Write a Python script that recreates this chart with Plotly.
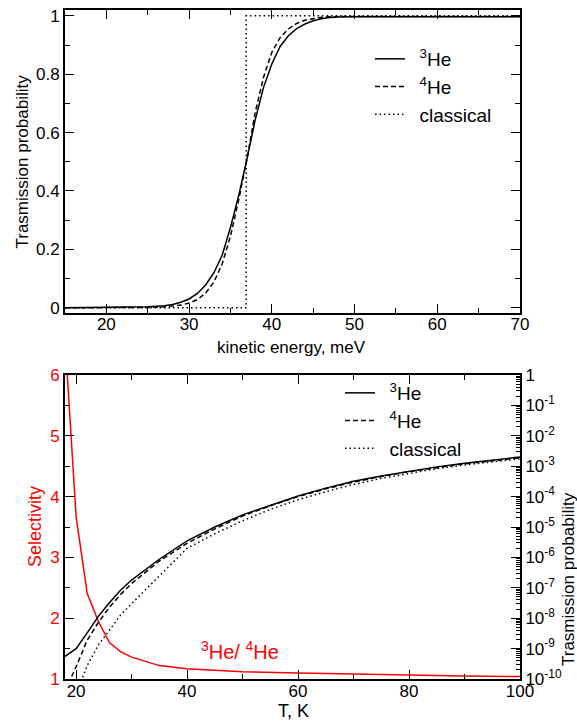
import plotly.graph_objects as go

# ---- upper panel: transmission probability vs kinetic energy ----
energy = [15, 20, 25, 27, 28, 29, 30, 31, 32, 33, 34, 35, 36, 37, 38, 39, 40,
          41, 42, 43, 44, 45, 46, 47, 48, 50, 55, 60, 65, 70]
he3_energy = [0.0, 0.0003, 0.003, 0.007, 0.011, 0.019, 0.03, 0.049, 0.078, 0.12,
              0.18, 0.275, 0.385, 0.51, 0.645, 0.755, 0.835, 0.895, 0.932, 0.956,
              0.972, 0.983, 0.99, 0.994, 0.996, 0.997, 0.997, 0.997, 0.997, 0.997]
he4_energy = [0.0, 0.0001, 0.0008, 0.003, 0.005, 0.009, 0.016, 0.028, 0.05, 0.088,
              0.15, 0.245, 0.37, 0.51, 0.67, 0.79, 0.875, 0.925, 0.955, 0.974,
              0.985, 0.991, 0.995, 0.997, 0.998, 0.998, 0.998, 0.998, 0.998, 0.998]
classical_energy = [15, 36.9, 36.9, 70]
classical_prob = [0.0, 0.0, 1.0, 1.0]

# ---- lower panel: transmission probability and selectivity vs temperature ----
temperature = [18, 20, 22, 24, 26, 28, 30, 35, 40, 45, 50, 55, 60, 65, 70, 75,
               80, 85, 90, 95, 100]
he3_temp = [5.5e-10, 1.0e-9, 3.3e-9, 1.15e-8, 3.2e-8, 8.3e-8, 1.8e-7, 8.7e-7,
            3.5e-6, 1.0e-5, 2.5e-5, 5.2e-5, 1.05e-4, 1.9e-4, 3.2e-4, 4.8e-4,
            6.9e-4, 9.5e-4, 1.26e-3, 1.6e-3, 2.0e-3]
he4_temp = [4.0e-11, 2.5e-10, 1.9e-9, 7.2e-9, 2.3e-8, 6.0e-8, 1.38e-7, 7.6e-7,
            2.9e-6, 8.7e-6, 2.3e-5, 5.0e-5, 1.0e-4, 1.8e-4, 3.0e-4, 4.6e-4,
            6.6e-4, 9.1e-4, 1.2e-3, 1.5e-3, 1.9e-3]
temperature_cl = [20, 22, 24, 26, 28, 30, 35, 40, 45, 50, 55, 60, 65, 70, 75,
                  80, 85, 90, 95, 100]
classical_temp = [3.2e-11, 2.75e-10, 1.3e-9, 4.2e-9, 1.26e-8, 3.0e-8, 2.5e-7,
                  2.0e-6, 6.0e-6, 1.6e-5, 3.8e-5, 7.9e-5, 1.45e-4, 2.5e-4,
                  4.0e-4, 5.8e-4, 8.3e-4, 1.1e-3, 1.4e-3, 1.74e-3]
temperature_sel = [18, 20, 22, 24, 26, 28, 30, 35, 40, 45, 50, 60, 70, 80, 90, 100]
selectivity = [6.6, 3.67, 2.41, 1.95, 1.60, 1.45, 1.36, 1.22, 1.17, 1.14, 1.12,
               1.10, 1.08, 1.06, 1.05, 1.04]

# legend names get an en space so the text sits a little away from the key
labels = ["\u2002<sup>3</sup>He", "\u2002<sup>4</sup>He", "\u2002classical"]
log_exponents = list(range(-10, 1))
log_ticktext = ["1" if e == 0 else f"10<sup>{e}</sup>" for e in log_exponents]

FONT = "Liberation Sans, Arial, sans-serif"
RED = "#ff0000"
W, H = 577, 721

def px(x):
    return x / W

def py(y):
    return 1 - y / H

fig = go.Figure()

# upper panel curves
fig.add_trace(go.Scatter(x=energy, y=he3_energy, mode="lines", name=labels[0],
                         line=dict(color="black", width=1.5), legend="legend",
                         xaxis="x", yaxis="y"))
fig.add_trace(go.Scatter(x=energy, y=he4_energy, mode="lines", name=labels[1],
                         line=dict(color="black", width=1.5, dash="5px,3px"),
                         legend="legend", xaxis="x", yaxis="y"))
fig.add_trace(go.Scatter(x=classical_energy, y=classical_prob, mode="lines",
                         name=labels[2],
                         line=dict(color="black", width=1.5, dash="1.5px,3px"),
                         legend="legend", xaxis="x", yaxis="y"))

# lower panel: selectivity on the left axis
fig.add_trace(go.Scatter(x=temperature_sel, y=selectivity, mode="lines",
                         line=dict(color=RED, width=1.5), showlegend=False,
                         xaxis="x2", yaxis="y2"))
# lower panel: transmission probabilities on the right log axis
fig.add_trace(go.Scatter(x=temperature, y=he3_temp, mode="lines", name=labels[0],
                         line=dict(color="black", width=1.5), legend="legend2",
                         xaxis="x2", yaxis="y3"))
fig.add_trace(go.Scatter(x=temperature, y=he4_temp, mode="lines", name=labels[1],
                         line=dict(color="black", width=1.5, dash="5px,3px"),
                         legend="legend2", xaxis="x2", yaxis="y3"))
fig.add_trace(go.Scatter(x=temperature_cl, y=classical_temp, mode="lines",
                         name=labels[2],
                         line=dict(color="black", width=1.5, dash="1.5px,3px"),
                         legend="legend2", xaxis="x2", yaxis="y3"))

tick_font = dict(family=FONT, size=17, color="black")
frame = dict(showline=True, linecolor="black", linewidth=2, showgrid=False,
             zeroline=False, ticks="inside", ticklen=9, tickwidth=1.2,
             tickcolor="black", tickfont=tick_font, automargin=False)

xdom = [px(65), px(520)]

def label(text, x, y, size=17, color="black", angle=0):
    return dict(text=text, x=px(x), y=py(y), xref="paper", yref="paper",
                xanchor="center", yanchor="middle", textangle=angle,
                showarrow=False, font=dict(family=FONT, size=size, color=color))

fig.update_layout(
    width=W, height=H,
    margin=dict(l=0, r=0, t=0, b=0, autoexpand=False),
    paper_bgcolor="white", plot_bgcolor="white",
    font=dict(family=FONT, size=17, color="black"),
    xaxis=dict(**frame, domain=xdom, anchor="y", range=[15, 70], mirror="ticks",
               tickvals=[20, 30, 40, 50, 60, 70], ticklabelstandoff=-5,
               minor=dict(ticks="inside", ticklen=5, dtick=5, tick0=15,
                          tickcolor="black")),
    yaxis=dict(**frame, domain=[py(313), py(10)], anchor="x", range=[-0.018, 1.02],
               mirror="ticks", tickvals=[0, 0.2, 0.4, 0.6, 0.8, 1],
               ticktext=["0", "0.2", "0.4", "0.6", "0.8", "1"],
               minor=dict(ticks="inside", ticklen=5, dtick=0.1, tick0=0,
                          tickcolor="black")),
    xaxis2=dict(**frame, domain=xdom, anchor="y2", range=[18, 100], mirror="ticks",
                tickvals=[20, 40, 60, 80, 100], ticklabelstandoff=-4,
                minor=dict(ticks="inside", ticklen=5, dtick=10, tick0=20,
                           tickcolor="black")),
    yaxis2=dict(showline=True, linecolor="black", linewidth=2, showgrid=False,
                zeroline=False, ticks="inside", ticklen=9, tickwidth=1.2,
                tickcolor="black", tickfont=dict(family=FONT, size=17, color=RED),
                automargin=False,
                domain=[py(679), py(375)], anchor="x2", range=[1, 6],
                tickvals=[1, 2, 3, 4, 5, 6],
                minor=dict(ticks="inside", ticklen=5, dtick=0.5, tick0=1,
                           tickcolor="black")),
    yaxis3=dict(showline=True, linecolor="black", linewidth=2, showgrid=False,
                zeroline=False, ticks="inside", ticklen=9, tickwidth=1.2,
                tickcolor="black", tickfont=tick_font, automargin=False,
                type="log", overlaying="y2", side="right", anchor="x2",
                range=[-10, 0],
                tickvals=[10.0 ** e for e in log_exponents], ticktext=log_ticktext,
                minor=dict(ticks="inside", ticklen=4, tickcolor="black",
                           tickvals=[m * 10.0 ** e for e in range(-10, 0)
                                     for m in range(2, 10)])),
    legend=dict(x=px(370), y=py(40), xanchor="left", yanchor="top",
                bgcolor="rgba(0,0,0,0)", font=dict(family=FONT, size=19),
                tracegroupgap=0, itemwidth=30),
    legend2=dict(x=px(340), y=py(374), xanchor="left", yanchor="top",
                 bgcolor="rgba(0,0,0,0)", font=dict(family=FONT, size=19),
                 tracegroupgap=0, itemwidth=30),
    annotations=[
        label("Trasmission probability", 22, 161.5, angle=-90),
        label("kinetic energy, meV", 292, 347),
        label("T, K", 293, 711, size=18),
        label("Selectivity", 35, 527, size=18, color=RED, angle=-90),
        label("Trasmission probability", 568, 579, angle=-90),
        label("<sup>3</sup>He/ <sup>4</sup>He", 240, 650, size=20, color=RED),
    ],
)

fig.write_html("out.html")
